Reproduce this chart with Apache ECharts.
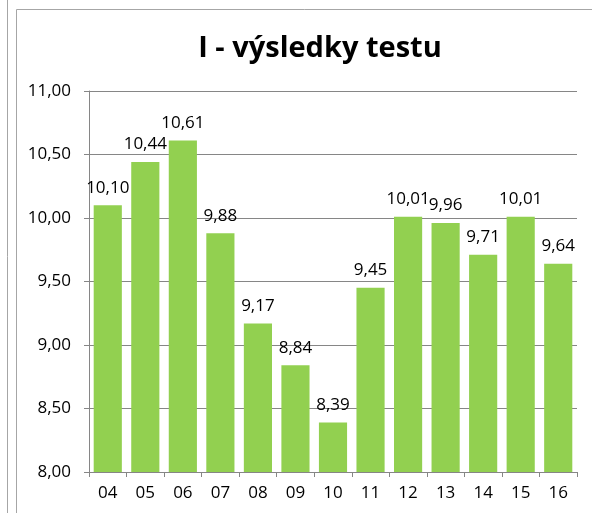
<!DOCTYPE html>
<html>
<head>
<meta charset="utf-8">
<script src="https://cdn.jsdelivr.net/npm/echarts@6/dist/echarts.min.js"></script>
<style>
  html, body { margin: 0; padding: 0; background: #fff; }
  #main { width: 592px; height: 513px; }
</style>
</head>
<body>
<div id="main"></div>
<script>
  // roky a výsledky
  var categories = ['04', '05', '06', '07', '08', '09', '10', '11', '12', '13', '14', '15', '16'];
  var values = [10.10, 10.44, 10.61, 9.88, 9.17, 8.84, 8.39, 9.45, 10.01, 9.96, 9.71, 10.01, 9.64];

  var fmt = function (v) { return Number(v).toFixed(2).replace('.', ','); };
  var font = 'Open Sans, Noto Sans, sans-serif';

  var myChart = echarts.init(document.getElementById('main'));
  var option = {
    animation: false,
    title: {
      text: 'I - výsledky testu',
      left: 315,
      top: 29,
      textAlign: 'center',
      textStyle: { fontSize: 29, fontWeight: 'bold', color: '#000', fontFamily: font }
    },
    graphic: [
      { type: 'line', shape: { x1: 7.5, y1: 0, x2: 7.5, y2: 513 }, style: { stroke: '#a6a6a6', lineWidth: 1 } },
      { type: 'rect', shape: { x: 16.5, y: 9.5, width: 600, height: 520 }, style: { fill: null, stroke: '#a6a6a6', lineWidth: 1 } }
    ],
    grid: { left: 89, top: 91, right: 15, bottom: 41 },
    xAxis: {
      type: 'category',
      data: categories,
      axisLine: { lineStyle: { color: '#868686' } },
      axisTick: { show: true, length: 5, lineStyle: { color: '#868686' } },
      axisLabel: { color: '#000', fontSize: 17, margin: 13, fontFamily: font }
    },
    yAxis: {
      type: 'value',
      min: 8,
      max: 11,
      interval: 0.5,
      axisLine: { show: true, lineStyle: { color: '#868686' } },
      axisTick: { show: true, length: 5, lineStyle: { color: '#868686' } },
      axisLabel: { color: '#000', fontSize: 17, margin: 18, fontFamily: font, formatter: fmt },
      splitLine: { lineStyle: { color: '#868686' } }
    },
    series: [{
      type: 'bar',
      data: values,
      barCategoryGap: '25%',
      itemStyle: { color: '#92D050' },
      label: {
        show: true,
        position: 'top',
        distance: 9,
        color: '#000',
        fontSize: 17,
        fontFamily: font,
        formatter: function (p) { return fmt(p.value); }
      }
    }]
  };
  myChart.setOption(option);
</script>
</body>
</html>
